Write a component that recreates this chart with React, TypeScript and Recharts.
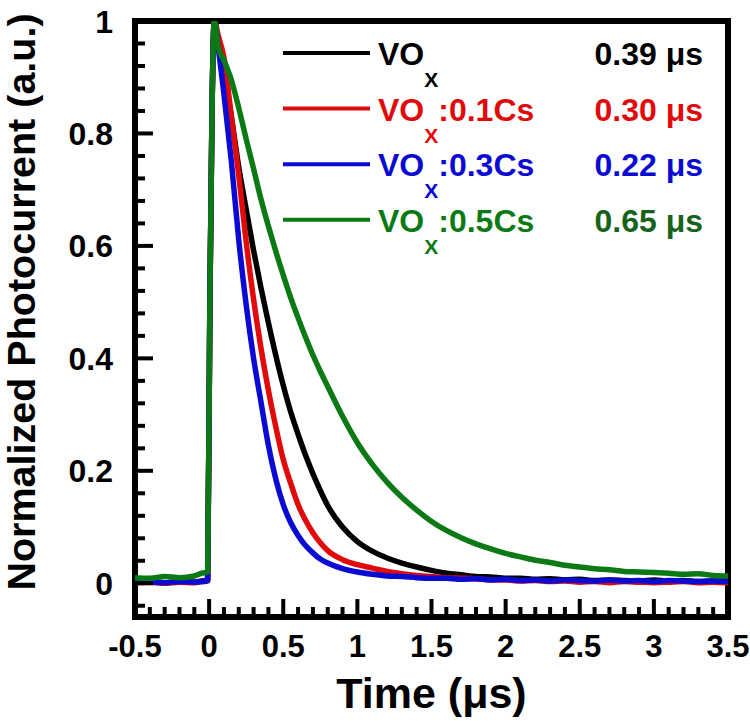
import { LineChart, Line, XAxis, YAxis, ReferenceArea, Legend, Label } from 'recharts';

// time axis, µs
const timeUs = [
  -0.5, -0.4, -0.3, -0.2, -0.1, -0.05, -0.01, 0.005, 0.02, 0.035,
  0.06, 0.1, 0.15, 0.2, 0.25, 0.3, 0.35, 0.4, 0.45, 0.5, 0.55, 0.6,
  0.65, 0.7, 0.75, 0.8,
  0.9, 1.0, 1.1, 1.2, 1.3, 1.4, 1.5, 1.6, 1.7, 1.8, 1.9, 2.0, 2.1, 2.2,
  2.3, 2.4, 2.5, 2.6, 2.7, 2.8, 2.9, 3.0, 3.1, 3.2, 3.3, 3.4, 3.5,
];

const voxSignal = [
  0.002, 0.004, 0.001, 0.003, 0.002, 0.004, 0.005, 0.5, 0.85, 1.0,
  0.97, 0.91, 0.83, 0.74, 0.665, 0.592, 0.525, 0.463, 0.405, 0.352, 0.305, 0.265,
  0.228, 0.195, 0.165, 0.138,
  0.1, 0.074, 0.057, 0.045, 0.036, 0.029, 0.023, 0.018, 0.015, 0.012, 0.011, 0.009, 0.009, 0.007,
  0.008, 0.006, 0.007, 0.005, 0.006, 0.005, 0.004, 0.006, 0.004, 0.005, 0.003, 0.004, 0.004,
];

const cs01Signal = [
  0.001, 0.002, 0.0, 0.002, 0.001, 0.003, 0.004, 0.5, 0.85, 1.0,
  0.975, 0.935, 0.83, 0.725, 0.607, 0.505, 0.418, 0.343, 0.278, 0.22, 0.178, 0.14,
  0.112, 0.09, 0.072, 0.058,
  0.042, 0.033, 0.027, 0.021, 0.017, 0.014, 0.012, 0.01, 0.009, 0.008, 0.006, 0.006, 0.004, 0.005,
  0.003, 0.004, 0.002, 0.003, 0.001, 0.003, 0.002, 0.001, 0.002, 0.003, 0.001, 0.002, 0.001,
];

const cs03Signal = [
  0.003, 0.002, 0.001, 0.003, 0.002, 0.003, 0.005, 0.5, 0.85, 1.0,
  0.955, 0.87, 0.75, 0.61, 0.495, 0.4, 0.322, 0.245, 0.185, 0.14, 0.108, 0.085,
  0.067, 0.054, 0.043, 0.036,
  0.026, 0.02, 0.016, 0.013, 0.012, 0.01, 0.009, 0.009, 0.007, 0.008, 0.006, 0.007, 0.005, 0.006,
  0.004, 0.006, 0.005, 0.004, 0.006, 0.004, 0.005, 0.003, 0.005, 0.004, 0.003, 0.004, 0.003,
];

const cs05Signal = [
  0.01, 0.009, 0.012, 0.01, 0.013, 0.018, 0.02, 0.5, 0.85, 1.0,
  0.955, 0.93, 0.895, 0.845, 0.79, 0.737, 0.683, 0.635, 0.59, 0.548, 0.508, 0.472,
  0.438, 0.406, 0.377, 0.35,
  0.297, 0.25, 0.212, 0.18, 0.153, 0.13, 0.11, 0.094, 0.081, 0.07, 0.061, 0.053, 0.047, 0.041,
  0.037, 0.032, 0.029, 0.026, 0.024, 0.021, 0.02, 0.019, 0.018, 0.016, 0.017, 0.014, 0.013,
];

const xMajorTicks = [-0.5, 0, 0.5, 1, 1.5, 2, 2.5, 3, 3.5];
const yMajorTicks = [0, 0.2, 0.4, 0.6, 0.8, 1];

const series = [
  { key: 'vox', suffix: '', tau: '0.39 μs', color: '#000000', tauColor: '#000000' },
  { key: 'cs01', suffix: ':0.1Cs', tau: '0.30 μs', color: '#e10a0a', tauColor: '#e10a0a' },
  { key: 'cs03', suffix: ':0.3Cs', tau: '0.22 μs', color: '#0a0ad2', tauColor: '#0a0ad2' },
  { key: 'cs05', suffix: ':0.5Cs', tau: '0.65 μs', color: '#0b7a14', tauColor: '#17631b' },
];

const data = timeUs.map((t, i) => ({
  t,
  vox: voxSignal[i],
  cs01: cs01Signal[i],
  cs03: cs03Signal[i],
  cs05: cs05Signal[i],
}));

// minor ticks: 5 per major on x, 5 per major on y
const xTicks: number[] = [];
for (let k = -5; k <= 35; k++) xTicks.push(Math.round(k * 10) / 100);
const yTicks: number[] = [];
for (let k = -1; k <= 25; k++) yTicks.push(Math.round(k * 4) / 100);

const FONT = "'Liberation Sans', Arial, Helvetica, sans-serif";

const isMajor = (v: number, majors: number[]) => majors.some((m) => Math.abs(m - v) < 1e-6);

const XTick = (props: any) => {
  const { x, y, payload } = props;
  const major = isMajor(payload.value, xMajorTicks);
  return (
    <g>
      <line x1={x} x2={x} y1={y} y2={y - (major ? 18 : 10)} stroke="#000" strokeWidth={4} />
      {major && (
        <text x={x} y={y + 40} textAnchor="middle" fontFamily={FONT} fontWeight="bold" fontSize={31} fill="#000">
          {String(payload.value)}
        </text>
      )}
    </g>
  );
};

const YTick = (props: any) => {
  const { x, y, payload } = props;
  const major = isMajor(payload.value, yMajorTicks);
  return (
    <g>
      <line x1={x} x2={x + (major ? 18 : 10)} y1={y} y2={y} stroke="#000" strokeWidth={4} />
      {major && (
        <text x={x - 22} y={y} dy="0.36em" textAnchor="end" fontFamily={FONT} fontWeight="bold" fontSize={32} fill="#000">
          {String(payload.value)}
        </text>
      )}
    </g>
  );
};

const YTitle = () => (
  <text
    x={35}
    y={302}
    transform="rotate(-90 35 302)"
    textAnchor="middle"
    fontFamily={FONT}
    fontWeight="bold"
    fontSize={39.5}
    fill="#000"
  >
    Normalized Photocurrent (a.u.)
  </text>
);

const LegendBox = () => (
  <svg width={460} height={260} style={{ overflow: 'visible' }}>
    {series.map((s, i) => {
      const ly = 33 + i * 55.6;
      return (
        <g key={s.key}>
          <line x1={13} x2={100} y1={ly} y2={ly} stroke={s.color} strokeWidth={4} />
          <text x={108} y={ly + 12} fontFamily={FONT} fontWeight="bold" fontSize={32} fill={s.color}>
            VO
            <tspan fontSize={21} dy={22}>X</tspan>
            <tspan dy={-22}>{s.suffix}</tspan>
          </text>
          <text x={433} y={ly + 12} textAnchor="end" fontFamily={FONT} fontWeight="bold" fontSize={32} fill={s.tauColor}>
            {s.tau}
          </text>
        </g>
      );
    })}
  </svg>
);

export default function App() {
  return (
    <div style={{ position: 'absolute', left: 0, top: 0, width: 750, height: 721, background: '#fff' }}>
      <LineChart width={750} height={721} data={data} margin={{ top: 21, right: 22, bottom: 0, left: 0 }}>
        <XAxis
          type="number"
          dataKey="t"
          domain={[-0.5, 3.5]}
          ticks={xTicks}
          interval={0}
          tickSize={0}
          tickMargin={0}
          axisLine={false}
          tickLine={false}
          tick={<XTick />}
          height={104}
          allowDataOverflow
        >
          <Label
            value="Time (μs)"
            position="insideBottom"
            offset={13}
            style={{ fontFamily: FONT, fontWeight: 'bold', fontSize: 43, fill: '#000' }}
          />
        </XAxis>
        <YAxis
          type="number"
          domain={[-0.06, 1]}
          ticks={yTicks}
          interval={0}
          tickSize={0}
          tickMargin={0}
          axisLine={false}
          tickLine={false}
          tick={<YTick />}
          width={135}
          allowDataOverflow
        >
          <Label content={<YTitle />} />
        </YAxis>
        {series.map((s) => (
          <Line
            key={s.key}
            type="monotone"
            dataKey={s.key}
            stroke={s.color}
            strokeWidth={5.5}
            strokeLinejoin="round"
            dot={false}
            activeDot={false}
            isAnimationActive={false}
          />
        ))}
        <ReferenceArea x1={-0.5} x2={3.5} y1={-0.06} y2={1} fill="none" stroke="#000" strokeWidth={6} />
        <Legend
          layout="vertical"
          align="center"
          verticalAlign="middle"
          content={<LegendBox />}
          wrapperStyle={{ top: 20, left: 270, width: 460, height: 260 }}
        />
      </LineChart>
    </div>
  );
}
